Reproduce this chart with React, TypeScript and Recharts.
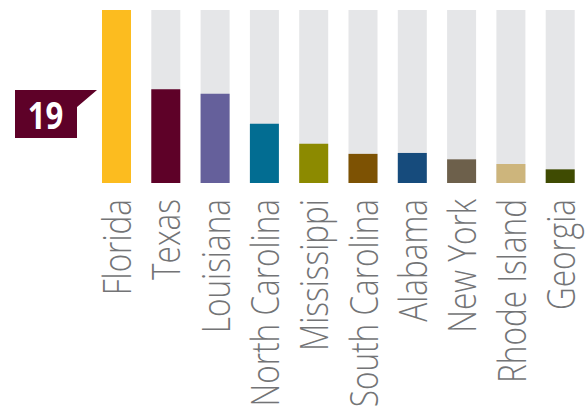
import React from "react";
import { BarChart, Bar, XAxis, YAxis, Cell } from "recharts";

const states = ["Florida", "Texas", "Louisiana", "North Carolina", "Mississippi", "South Carolina", "Alabama", "New York", "Rhode Island", "Georgia"];
const values = [19, 10.3, 9.8, 6.5, 4.3, 3.2, 3.3, 2.6, 2.1, 1.5];
const colors = ["#fcbc1f", "#5e0128", "#65609b", "#026d92", "#8c8a00", "#7d5203", "#164b7c", "#6d604b", "#cdb57c", "#3f4b02"];

const data = states.map((s, i) => ({ name: s, value: values[i] }));
const maxVal = Math.max(...values);

const Tick = (props: any) => {
  const { x, payload } = props;
  return (
    <text
      transform={`translate(${x + 14.5}, 199) rotate(-90) scale(0.83, 1)`}
      textAnchor="end"
      fontFamily="'Open Sans', sans-serif"
      fontWeight={300}
      fontSize={38}
      fill="#737476"
    >
      {payload.value}
    </text>
  );
};

const Callout = (props: any) => {
  const { x, y, value } = props;
  if (value !== maxVal) return null;
  const r = x - 5;
  const t = y + 80;
  const pts = [
    [r - 82, t],
    [r, t],
    [r - 20, t + 17],
    [r - 20, t + 48],
    [r - 82, t + 48],
  ]
    .map((p) => p.join(","))
    .join(" ");
  return (
    <g>
      <polygon points={pts} fill="#5e0128" />
      <text
        transform={`translate(${r - 51.5}, ${t + 38.5}) scale(0.82, 1)`}
        textAnchor="middle"
        fontFamily="'Open Sans', sans-serif"
        fontWeight={700}
        fontSize={38}
        fill="#ffffff"
      >
        {value}
      </text>
    </g>
  );
};

export default function App() {
  return (
    <div style={{ position: "absolute", left: 0, top: 0, width: 585, height: 414, background: "#fff" }}>
      <BarChart width={585} height={414} data={data} margin={{ top: 10, right: 0, bottom: 0, left: 92 }}>
        <XAxis dataKey="name" axisLine={false} tickLine={false} interval={0} height={231} tick={<Tick />} />
        <YAxis hide domain={[0, maxVal]} />
        <Bar
          dataKey="value"
          barSize={29}
          isAnimationActive={false}
          background={{ fill: "#e5e6e8" }}
          label={<Callout />}
        >
          {data.map((d, i) => (
            <Cell key={d.name} fill={colors[i]} />
          ))}
        </Bar>
      </BarChart>
    </div>
  );
}
